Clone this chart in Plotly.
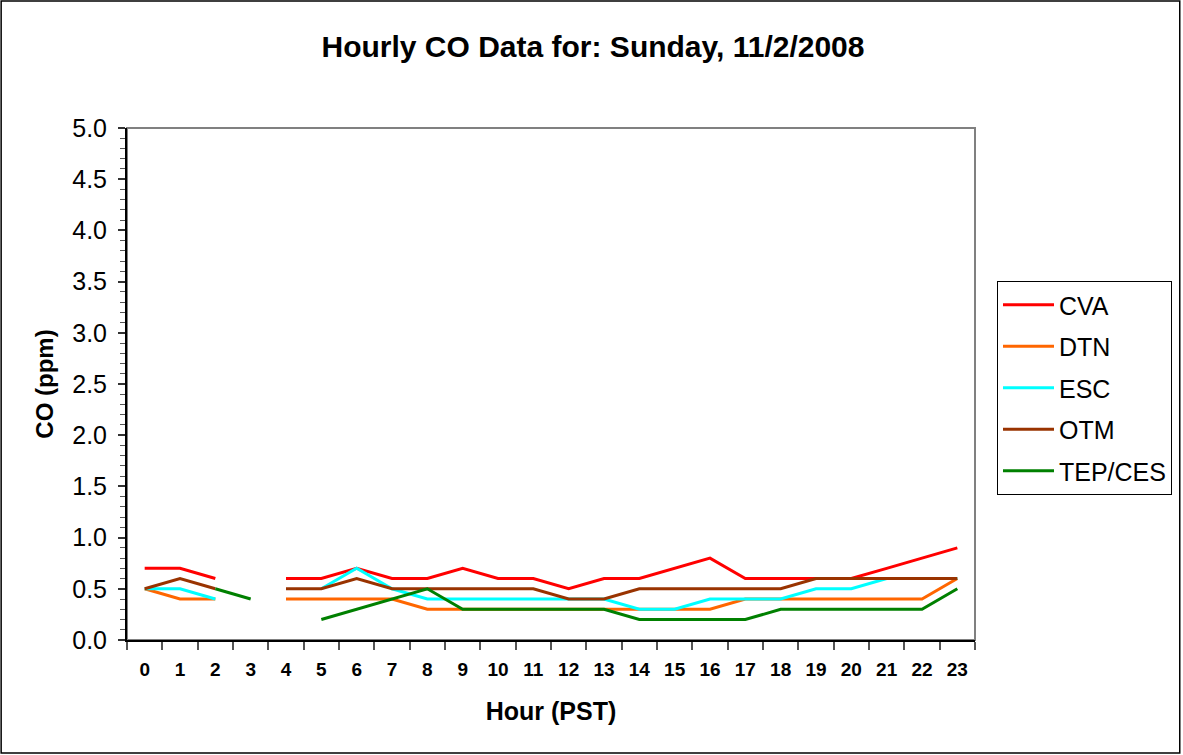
import plotly.graph_objects as go

hours = list(range(24))
hour_labels = [str(h) for h in hours]

cva = [0.7, 0.7, 0.6, None, 0.6, 0.6, 0.7, 0.6, 0.6, 0.7, 0.6, 0.6, 0.5, 0.6, 0.6, 0.7, 0.8, 0.6, 0.6, 0.6, 0.6, 0.7, 0.8, 0.9]
dtn = [0.5, 0.4, 0.4, None, 0.4, 0.4, 0.4, 0.4, 0.3, 0.3, 0.3, 0.3, 0.3, 0.3, 0.3, 0.3, 0.3, 0.4, 0.4, 0.4, 0.4, 0.4, 0.4, 0.6]
esc = [0.5, 0.5, 0.4, None, None, 0.5, 0.7, 0.5, 0.4, 0.4, 0.4, 0.4, 0.4, 0.4, 0.3, 0.3, 0.4, 0.4, 0.4, 0.5, 0.5, 0.6, 0.6, 0.6]
otm = [0.5, 0.6, 0.5, None, 0.5, 0.5, 0.6, 0.5, 0.5, 0.5, 0.5, 0.5, 0.4, 0.4, 0.5, 0.5, 0.5, 0.5, 0.5, 0.6, 0.6, 0.6, 0.6, 0.6]
tep = [None, None, 0.5, 0.4, None, 0.2, 0.3, 0.4, 0.5, 0.3, 0.3, 0.3, 0.3, 0.3, 0.2, 0.2, 0.2, 0.2, 0.3, 0.3, 0.3, 0.3, 0.3, 0.5]

series = [
    ("CVA", cva, "#FF0000"),
    ("DTN", dtn, "#FF6600"),
    ("ESC", esc, "#00FFFF"),
    ("OTM", otm, "#993300"),
    ("TEP/CES", tep, "#008000"),
]

FONT = "Liberation Sans, Arial, sans-serif"

fig = go.Figure()
for name, vals, color in series:
    fig.add_trace(go.Scatter(
        x=hours, y=vals, name=name, mode="lines", legendgroup=name,
        line=dict(color=color, width=3), connectgaps=False,
    ))

L, R, T, B = 127, 976, 128, 640
W, H = 1183, 755
pw, ph = R - L, B - T

def px_x(p):
    return (p - L) / pw

def px_y(p):
    return (B - p) / ph

fig.update_layout(
    width=W, height=H,
    margin=dict(l=L, r=W - R, t=T, b=H - B, pad=0),
    paper_bgcolor="white", plot_bgcolor="white",
    font=dict(family=FONT, color="black"),
    title=dict(text="<b>Hourly CO Data for: Sunday, 11/2/2008</b>",
               x=593 / W, xanchor="center", xref="container",
               y=1 - 46 / H, yanchor="middle", yref="container",
               font=dict(size=30, family=FONT, color="black")),
    showlegend=True,
    legend=dict(x=px_x(997), y=px_y(281), xanchor="left", yanchor="top",
                bordercolor="black", borderwidth=1, bgcolor="white",
                font=dict(size=25, family=FONT, color="black"),
                itemwidth=51, tracegroupgap=6),
    xaxis=dict(
        range=[-0.5, 23.5], tickmode="array", tickvals=hours, ticktext=hour_labels,
        ticks="", showgrid=False, zeroline=False,
        showline=True, linecolor="black", linewidth=2,
        tickfont=dict(size=19, family=FONT, color="black", weight="bold"),
        ticklabelstandoff=11,
        minor=dict(tick0=-0.5, dtick=1, ticks="outside", ticklen=8, tickcolor="#555555", tickwidth=2),
        title=dict(text="<b>Hour (PST)</b>", font=dict(size=25, family=FONT, color="black"), standoff=24),
    ),
    yaxis=dict(
        range=[0, 5.0], tickmode="linear", tick0=0, dtick=0.5, tickformat=".1f",
        ticks="outside", ticklen=7, tickwidth=2, tickcolor="#333333",
        showgrid=False, zeroline=False,
        showline=True, linecolor="black", linewidth=2,
        tickfont=dict(size=25, family=FONT, color="black"),
        ticklabelstandoff=6,
        minor=dict(dtick=0.1, ticks="outside", ticklen=5, tickcolor="#555555", tickwidth=1),
        title=dict(text="<b>CO (ppm)</b>", font=dict(size=24, family=FONT, color="black"), standoff=12),
    ),
    yaxis2=dict(
        overlaying="y", side="left", range=[0, 5.0], tickmode="linear", tick0=0, dtick=0.5,
        ticks="inside", ticklen=7, tickwidth=2, tickcolor="#333333",
        showticklabels=False, showgrid=False, zeroline=False, showline=False,
    ),
)

# plot area border (gray top/right)
fig.add_shape(type="rect", xref="paper", yref="paper", x0=0, x1=1, y0=0, y1=1,
              line=dict(color="#808080", width=2), layer="below")
# outer chart border
fig.add_shape(type="rect", xref="paper", yref="paper",
              x0=px_x(1), x1=px_x(W - 2), y0=px_y(H - 2), y1=px_y(1),
              line=dict(color="black", width=1.5), layer="below")

fig.write_html("out.html", config={"displayModeBar": False},
               post_script="document.body.style.margin='0';document.body.style.overflow='hidden';")
